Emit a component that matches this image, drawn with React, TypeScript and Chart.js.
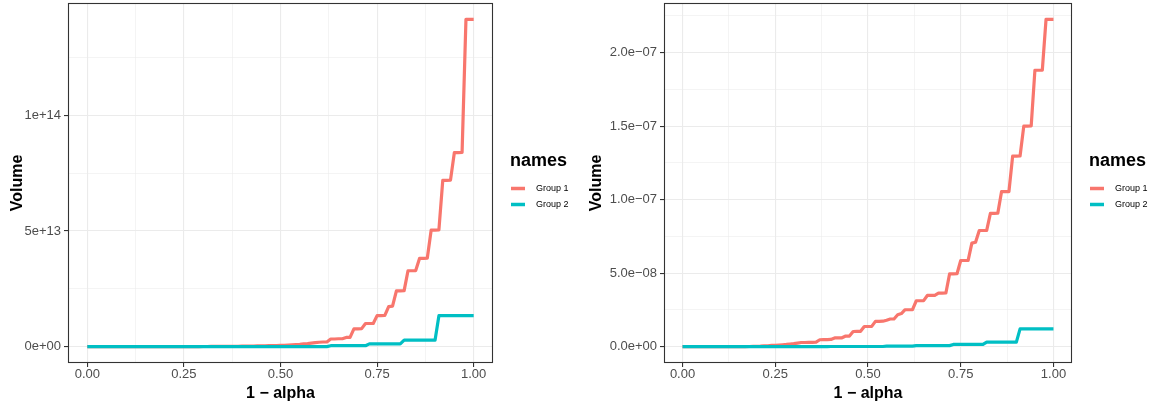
import React, { useEffect, useRef } from "react";
import { Chart, registerables } from "chart.js";

Chart.register(...registerables);

const FONT = '"Liberation Sans", Arial, Helvetica, sans-serif';

// x values: 1 − alpha
const oneMinusAlpha = [
  0.00, 0.01, 0.02, 0.03, 0.04, 0.05, 0.06, 0.07, 0.08, 0.09,
  0.10, 0.11, 0.12, 0.13, 0.14, 0.15, 0.16, 0.17, 0.18, 0.19,
  0.20, 0.21, 0.22, 0.23, 0.24, 0.25, 0.26, 0.27, 0.28, 0.29,
  0.30, 0.31, 0.32, 0.33, 0.34, 0.35, 0.36, 0.37, 0.38, 0.39,
  0.40, 0.41, 0.42, 0.43, 0.44, 0.45, 0.46, 0.47, 0.48, 0.49,
  0.50, 0.51, 0.52, 0.53, 0.54, 0.55, 0.56, 0.57, 0.58, 0.59,
  0.60, 0.61, 0.62, 0.63, 0.64, 0.65, 0.66, 0.67, 0.68, 0.69,
  0.70, 0.71, 0.72, 0.73, 0.74, 0.75, 0.76, 0.77, 0.78, 0.79,
  0.80, 0.81, 0.82, 0.83, 0.84, 0.85, 0.86, 0.87, 0.88, 0.89,
  0.90, 0.91, 0.92, 0.93, 0.94, 0.95, 0.96, 0.97, 0.98, 0.99,
  1.00,
];

// Left panel volumes, in units of 1e13
const PANEL_A_UNIT = 1e13;
const panelAGroup1 = [
  0, 0, 0, 0, 0, 0, 0, 0, 0, 0,
  0, 0, 0, 0, 0, 0, 0, 0, 0, 0,
  0.001, 0.001, 0.001, 0.002, 0.002, 0.002, 0.003, 0.003, 0.004, 0.004,
  0.005, 0.006, 0.007, 0.008, 0.009, 0.010, 0.012, 0.013, 0.015, 0.017,
  0.019, 0.021, 0.024, 0.027, 0.030, 0.033, 0.037, 0.041, 0.045, 0.050,
  0.06, 0.06, 0.07, 0.08, 0.09, 0.10, 0.12, 0.13, 0.15, 0.17,
  0.19, 0.20, 0.20, 0.33, 0.33, 0.34, 0.34, 0.40, 0.40, 0.77,
  0.77, 0.78, 1.00, 1.00, 1.00, 1.34, 1.34, 1.35, 1.73, 1.75,
  2.41, 2.41, 2.42, 3.28, 3.28, 3.29, 3.82, 3.82, 3.83, 5.04,
  5.04, 5.05, 7.19, 7.19, 7.20, 8.39, 8.39, 8.40, 14.15, 14.15,
  14.15,
];
const panelAGroup2 = [
  0, 0, 0, 0, 0, 0, 0, 0, 0, 0,
  0, 0, 0, 0, 0, 0, 0, 0, 0, 0,
  0, 0, 0, 0, 0, 0, 0, 0, 0, 0,
  0, 0, 0, 0, 0, 0, 0, 0, 0, 0,
  0.001, 0.001, 0.001, 0.001, 0.001, 0.001, 0.001, 0.001, 0.001, 0.001,
  0.003, 0.003, 0.003, 0.003, 0.003, 0.003, 0.003, 0.003, 0.003, 0.003,
  0.003, 0.003, 0.003, 0.04, 0.04, 0.04, 0.04, 0.04, 0.04, 0.04,
  0.04, 0.04, 0.04, 0.12, 0.12, 0.12, 0.12, 0.12, 0.12, 0.12,
  0.12, 0.12, 0.28, 0.28, 0.28, 0.28, 0.28, 0.28, 0.28, 0.28,
  0.28, 1.34, 1.34, 1.34, 1.34, 1.34, 1.34, 1.34, 1.34, 1.34,
  1.34,
];

// Right panel volumes, in units of 1e-8
const PANEL_B_UNIT = 1e-8;
const panelBGroup1 = [
  0, 0, 0, 0, 0, 0, 0, 0, 0, 0,
  0, 0, 0, 0, 0, 0, 0.003, 0.005, 0.008, 0.012,
  0.02, 0.03, 0.05, 0.06, 0.08, 0.09, 0.11, 0.13, 0.15, 0.18,
  0.20, 0.24, 0.28, 0.28, 0.29, 0.29, 0.31, 0.47, 0.48, 0.48,
  0.49, 0.59, 0.59, 0.60, 0.72, 0.72, 1.03, 1.04, 1.04, 1.37,
  1.37, 1.38, 1.72, 1.72, 1.73, 1.80, 1.88, 1.88, 2.17, 2.25,
  2.51, 2.51, 2.52, 3.12, 3.12, 3.13, 3.48, 3.48, 3.49, 3.64,
  3.64, 3.65, 4.95, 4.95, 4.96, 5.86, 5.86, 5.87, 7.04, 7.10,
  7.90, 7.90, 7.91, 9.07, 9.07, 9.08, 10.54, 10.54, 10.55, 12.96,
  12.96, 12.97, 15.00, 15.00, 15.01, 18.80, 18.80, 18.81, 22.26, 22.26,
  22.26,
];
const panelBGroup2 = [
  0, 0, 0, 0, 0, 0, 0, 0, 0, 0,
  0, 0, 0, 0, 0, 0, 0, 0, 0, 0,
  0, 0, 0, 0, 0, 0, 0, 0, 0, 0,
  0, 0, 0, 0, 0, 0, 0, 0, 0, 0,
  0.01, 0.01, 0.01, 0.01, 0.01, 0.01, 0.01, 0.01, 0.01, 0.01,
  0.01, 0.01, 0.01, 0.01, 0.01, 0.03, 0.03, 0.03, 0.03, 0.03,
  0.03, 0.03, 0.03, 0.07, 0.07, 0.07, 0.07, 0.07, 0.07, 0.07,
  0.07, 0.07, 0.07, 0.15, 0.15, 0.15, 0.15, 0.15, 0.15, 0.15,
  0.15, 0.15, 0.31, 0.31, 0.31, 0.31, 0.31, 0.31, 0.31, 0.31,
  0.31, 1.21, 1.21, 1.21, 1.21, 1.21, 1.21, 1.21, 1.21, 1.21,
  1.21,
];

const seriesNames = ["Group 1", "Group 2"];
const seriesColors = ["#F8766D", "#00BFC4"];

const xMajorTicks = [0, 0.25, 0.5, 0.75, 1];
const xMinorTicks = [0.125, 0.375, 0.625, 0.875];
const xTickLabels = ["0.00", "0.25", "0.50", "0.75", "1.00"];

const panelAYMajor = [0, 5e13, 1e14];
const panelAYMinor = [2.5e13, 7.5e13, 1.25e14];
const panelAYLabels = ["0e+00", "5e+13", "1e+14"];

const panelBYMajor = [0, 5e-8, 1e-7, 1.5e-7, 2e-7];
const panelBYMinor = [2.5e-8, 7.5e-8, 1.25e-7, 1.75e-7, 2.25e-7];
const panelBYLabels = ["0.0e+00", "5.0e\u221208", "1.0e\u221207", "1.5e\u221207", "2.0e\u221207"];

const xTitle = "1 \u2212 alpha";
const yTitle = "Volume";
const legendTitle = "names";

type PanelSpec = {
  g1: number[];
  g2: number[];
  unit: number;
  yMajor: number[];
  yMinor: number[];
  yLabels: string[];
  axisWidth: number;
  rightPad: number;
};

const panelA: PanelSpec = {
  g1: panelAGroup1, g2: panelAGroup2, unit: PANEL_A_UNIT,
  yMajor: panelAYMajor, yMinor: panelAYMinor, yLabels: panelAYLabels,
  axisWidth: 68, rightPad: 86,
};
const panelB: PanelSpec = {
  g1: panelBGroup1, g2: panelBGroup2, unit: PANEL_B_UNIT,
  yMajor: panelBYMajor, yMinor: panelBYMinor, yLabels: panelBYLabels,
  axisWidth: 85, rightPad: 86,
};

const CANVAS_W = 579;
const CANVAS_H = 409;
const PANEL_TOP = 3;
const PANEL_BOTTOM = 363;

function indexIn(list: number[], v: number): number {
  return list.findIndex((m) => Math.abs(m - v) <= 1e-6 * Math.max(Math.abs(m), Math.abs(v)));
}

const panelDecor = {
  id: "panelDecor",
  afterDatasetsDraw(chart: any) {
    const { ctx, chartArea: ca } = chart;
    ctx.save();
    ctx.strokeStyle = "#333333";
    ctx.lineWidth = 1.1;
    ctx.strokeRect(Math.round(ca.left) + 0.5, Math.round(ca.top) + 0.5,
      Math.round(ca.right - ca.left) - 1, Math.round(ca.bottom - ca.top) - 1);
    ctx.restore();
  },
  afterDraw(chart: any) {
    const { ctx, chartArea: ca } = chart;
    const cy = (ca.top + ca.bottom) / 2;
    const x0 = ca.right + 17;
    ctx.save();
    ctx.textAlign = "left";
    ctx.textBaseline = "middle";
    ctx.fillStyle = "#000000";
    ctx.font = `bold 18px ${FONT}`;
    ctx.fillText(legendTitle, x0, cy - 22);
    seriesNames.forEach((name, i) => {
      const y = cy + 5.5 + i * 16;
      ctx.strokeStyle = seriesColors[i];
      ctx.lineWidth = 3.5;
      ctx.lineCap = "butt";
      ctx.beginPath();
      ctx.moveTo(x0 + 1, y);
      ctx.lineTo(x0 + 15, y);
      ctx.stroke();
      ctx.fillStyle = "#000000";
      ctx.font = `9px ${FONT}`;
      ctx.fillText(name, x0 + 26, y);
    });
    ctx.restore();
  },
};

function buildChart(canvas: HTMLCanvasElement, spec: PanelSpec) {
  const g1 = spec.g1.map((v) => v * spec.unit);
  const g2 = spec.g2.map((v) => v * spec.unit);
  const yMaxData = Math.max(...g1, ...g2);
  const yMinData = Math.min(0, ...g1, ...g2);
  const span = yMaxData - yMinData;
  const xTicks = [...xMajorTicks, ...xMinorTicks].sort((a, b) => a - b);
  const yTicks = [...spec.yMajor, ...spec.yMinor].sort((a, b) => a - b);

  const gridStyle = (major: number[]) => ({
    color: "#EBEBEB",
    lineWidth: (c: any) => (indexIn(major, c.tick.value) >= 0 ? 1.1 : 0.55),
    drawTicks: true,
    tickLength: 4,
    tickWidth: 1.1,
    tickColor: (c: any) => (indexIn(major, c.tick.value) >= 0 ? "#333333" : "rgba(0,0,0,0)"),
  });

  return new Chart(canvas, {
    type: "line",
    data: {
      datasets: [
        {
          label: seriesNames[0],
          data: oneMinusAlpha.map((x, i) => ({ x, y: g1[i] })),
          borderColor: seriesColors[0],
          backgroundColor: seriesColors[0],
          borderWidth: 3.2,
          borderJoinStyle: "round",
          pointRadius: 0,
          tension: 0,
          fill: false,
          order: 1,
        },
        {
          label: seriesNames[1],
          data: oneMinusAlpha.map((x, i) => ({ x, y: g2[i] })),
          borderColor: seriesColors[1],
          backgroundColor: seriesColors[1],
          borderWidth: 3.2,
          borderJoinStyle: "round",
          pointRadius: 0,
          tension: 0,
          fill: false,
          order: 0,
        },
      ],
    },
    options: {
      animation: false,
      responsive: false,
      maintainAspectRatio: false,
      events: [],
      layout: {
        autoPadding: false,
        padding: { top: PANEL_TOP, right: spec.rightPad, bottom: 0, left: 0 },
      },
      plugins: {
        legend: { display: false },
        tooltip: { enabled: false },
      },
      scales: {
        x: {
          type: "linear",
          min: -0.05,
          max: 1.05,
          afterBuildTicks: (s: any) => {
            s.ticks = xTicks.map((value) => ({ value }));
          },
          afterFit: (s: any) => {
            s.height = CANVAS_H - PANEL_BOTTOM;
            s.paddingLeft = 0;
            s.paddingRight = 0;
          },
          ticks: {
            autoSkip: false,
            maxRotation: 0,
            padding: 0,
            color: "#4D4D4D",
            font: { family: FONT, size: 13 },
            callback: (v: any) => {
              const k = indexIn(xMajorTicks, Number(v));
              return k >= 0 ? xTickLabels[k] : "";
            },
          },
          grid: gridStyle(xMajorTicks),
          border: { display: false },
          title: {
            display: true,
            text: xTitle,
            color: "#000000",
            font: { family: FONT, size: 16, weight: "bold" },
            padding: { top: 0, bottom: 6 },
          },
        },
        y: {
          type: "linear",
          min: yMinData - 0.05 * span,
          max: yMaxData + 0.05 * span,
          afterBuildTicks: (s: any) => {
            s.ticks = yTicks.map((value) => ({ value }));
          },
          afterFit: (s: any) => {
            s.width = spec.axisWidth;
            s.paddingTop = 0;
            s.paddingBottom = 0;
          },
          ticks: {
            autoSkip: false,
            padding: 3,
            color: "#4D4D4D",
            font: { family: FONT, size: 13 },
            callback: (v: any) => {
              const k = indexIn(spec.yMajor, Number(v));
              return k >= 0 ? spec.yLabels[k] : "";
            },
          },
          grid: gridStyle(spec.yMajor),
          border: { display: false },
          title: {
            display: true,
            text: yTitle,
            color: "#000000",
            font: { family: FONT, size: 16, weight: "bold" },
            padding: { top: 8, bottom: 0 },
          },
        },
      },
    } as any,
    plugins: [panelDecor],
  });
}

export default function App() {
  const leftRef = useRef<HTMLCanvasElement>(null);
  const rightRef = useRef<HTMLCanvasElement>(null);

  useEffect(() => {
    document.body.style.margin = "0";
    const a = buildChart(leftRef.current as HTMLCanvasElement, panelA);
    const b = buildChart(rightRef.current as HTMLCanvasElement, panelB);
    return () => {
      a.destroy();
      b.destroy();
    };
  }, []);

  return (
    <div style={{ display: "flex", width: CANVAS_W * 2, height: CANVAS_H, background: "#ffffff" }}>
      <div style={{ width: CANVAS_W, height: CANVAS_H }}>
        <canvas ref={leftRef} width={CANVAS_W} height={CANVAS_H} style={{ display: "block" }} />
      </div>
      <div style={{ width: CANVAS_W, height: CANVAS_H }}>
        <canvas ref={rightRef} width={CANVAS_W} height={CANVAS_H} style={{ display: "block" }} />
      </div>
    </div>
  );
}
